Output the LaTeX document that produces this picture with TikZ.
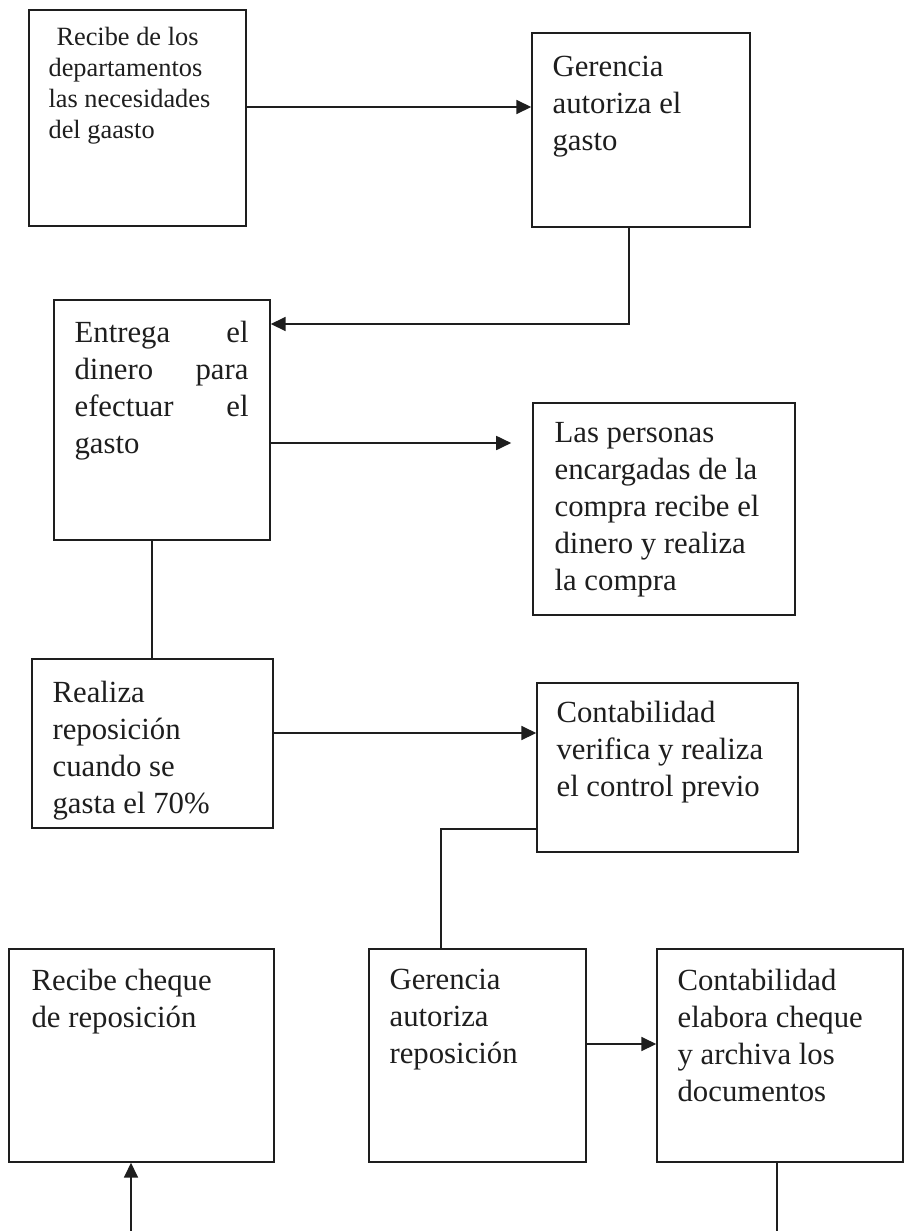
\documentclass[tikz,border=0pt]{standalone}
\usepackage{fontspec}
\setmainfont{Liberation Serif}
\usetikzlibrary{arrows.meta,calc,fit}
\definecolor{ink}{RGB}{30,30,30}
\begin{document}
\begin{tikzpicture}[x=0.02cm,y=-0.02cm,
  box/.style={draw=ink,line width=0.85pt,inner sep=0pt},
  txt/.style={anchor=north west,inner sep=0pt,align=left,text=ink,font=\fontsize{17.5}{21}\selectfont},
  small/.style={font=\fontsize{15}{17.6}\selectfont},
  conn/.style={draw=ink,line width=0.85pt},
  arr/.style={conn,-{Triangle[length=8.5pt,width=8pt]}}]
\path[use as bounding box,clip] (0,0) rectangle (910,1231);
\fill[white] (0,0) rectangle (910,1231);

% boxes
\node[box,fit={(29,10)(246,226)}]   (A) {};
\node[box,fit={(532,33)(750,227)}]  (B) {};
\node[box,fit={(54,300)(270,540)}]  (C) {};
\node[box,fit={(533,403)(795,615)}] (D) {};
\node[box,fit={(32,659)(273,828)}]  (E) {};
\node[box,fit={(537,683)(798,852)}] (F) {};
\node[box,fit={(9,949)(274,1162)}]  (G) {};
\node[box,fit={(369,949)(586,1162)}] (H) {};
\node[box,fit={(657,949)(903,1162)}] (I) {};

% texts
\node[txt,small] (tA) at ($(A.north west)+(20,18)$) {\hspace*{0.3em}Recibe de los\\departamentos\\las necesidades\\del gaasto};
\node[txt] (tB) at ($(B.north west)+(21,24)$) {Gerencia\\autoriza el\\gasto};
\node[txt] (tC) at ($(C.north west)+(21,22)$) {\hbox to 99pt{Entrega\hfill el}\\\hbox to 99pt{dinero\hfill para}\\\hbox to 99pt{efectuar\hfill el}\\gasto};
\node[txt] (tD) at ($(D.north west)+(22,20)$) {Las personas\\encargadas de la\\compra recibe el\\dinero y realiza\\la compra};
\node[txt] (tE) at ($(E.north west)+(21,23)$) {Realiza\\reposición\\cuando se\\gasta el 70\%};
\node[txt] (tF) at ($(F.north west)+(20,19)$) {Contabilidad\\verifica y realiza\\el control previo};
\node[txt] (tG) at ($(G.north west)+(23,21)$) {Recibe cheque\\de reposición};
\node[txt] (tH) at ($(H.north west)+(21,21)$) {Gerencia\\autoriza\\reposición};
\node[txt] (tI) at ($(I.north west)+(21,21)$) {Contabilidad\\elabora cheque\\y archiva los\\documentos};

% connector levels
\coordinate (yAB) at (0,107);
\coordinate (xB)  at (629,0);
\coordinate (yBC) at (0,324);
\coordinate (yCD) at (0,443);
\coordinate (xCE) at (152,0);
\coordinate (yEF) at (0,733);
\coordinate (yF)  at (0,829);
\coordinate (xFH) at (441,0);
\coordinate (yHI) at (0,1044);
\coordinate (xI)  at (777,0);
\coordinate (xG)  at (131,0);
\coordinate (yLow) at (0,1250);

% connectors
\draw[arr] (A.east |- yAB) -- (B.west |- yAB);
\draw[arr] (B.south -| xB) |- (C.east |- yBC);
\draw[arr,shorten >=12pt] (C.east |- yCD) -- (D.west |- yCD);
\draw[conn] (C.south -| xCE) -- (E.north -| xCE);
\draw[arr] (E.east |- yEF) -- (F.west |- yEF);
\draw[conn] (F.west |- yF) -| (H.north -| xFH);
\draw[arr] (H.east |- yHI) -- (I.west |- yHI);
\draw[arr] (I.south -| xI) |- (xG |- yLow) -- (G.south -| xG);
\end{tikzpicture}
\end{document}
